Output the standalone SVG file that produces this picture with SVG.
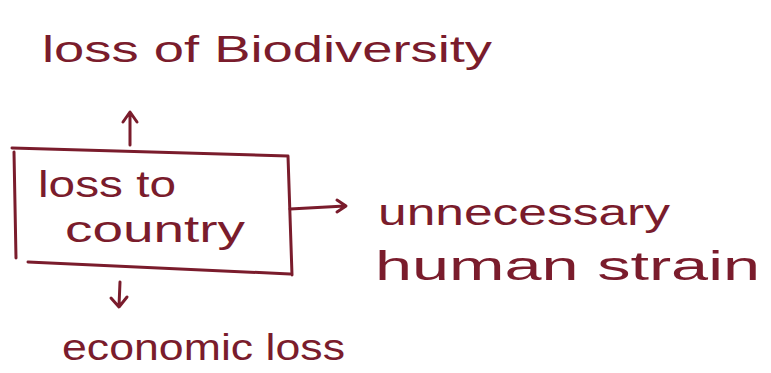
<svg xmlns="http://www.w3.org/2000/svg" width="771" height="373" viewBox="0 0 771 373">
<style>
.t{font-family:"Liberation Sans","DejaVu Sans",sans-serif;fill:#7a1c2c;font-size:36px}
.b{font-size:40px}
.l{stroke:#7a1c2c;stroke-width:3;fill:none;stroke-linecap:round;stroke-linejoin:round}
</style>
<rect width="771" height="373" fill="#ffffff"/>
<g id="biodiversity"><text class="t" x="42" y="62" textLength="450" lengthAdjust="spacingAndGlyphs">loss of Biodiversity</text></g>
<g id="country">
<path class="l" d="M12,148 L288,156 M288,156 L292,275 M14,152 L16,258 M28,262 L290,274"/>
<text class="t" x="38" y="197" textLength="138" lengthAdjust="spacingAndGlyphs">loss to</text>
<text class="t" x="65" y="242" textLength="180" lengthAdjust="spacingAndGlyphs">country</text>
</g>
<g id="strain">
<text class="t" x="378" y="225" textLength="292" lengthAdjust="spacingAndGlyphs">unnecessary</text>
<text class="t b" x="375" y="280" textLength="385" lengthAdjust="spacingAndGlyphs">human strain</text>
</g>
<g id="economic"><text class="t" x="62" y="360" textLength="283" lengthAdjust="spacingAndGlyphs">economic loss</text></g>
<g id="connectors">
<path class="l" d="M130,145 L130,113 M123,122 L130,112 L137,122"/>
<path class="l" d="M290,209 L345,206 M337,200 L346,206 L337,212"/>
<path class="l" d="M120,282 L119,306 M111,298 L119,307 L127,297"/>
</g>
</svg>
